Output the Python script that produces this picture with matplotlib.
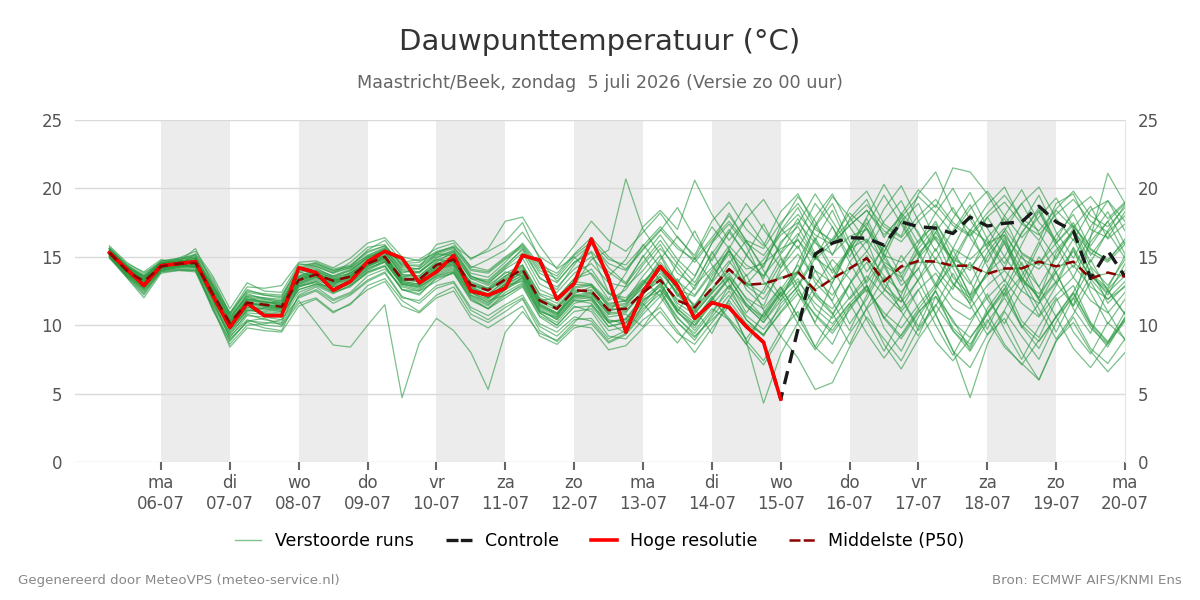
import numpy as np
import pandas as pd
import matplotlib
matplotlib.use('Agg')
import matplotlib.pyplot as plt
import matplotlib.dates as mdates
from matplotlib.lines import Line2D

# 6-hourly steps from zo 05-07 06:00 up to ma 20-07 00:00
times = pd.date_range('2026-07-05 06:00', periods=60, freq='6h')
day_names = ['ma', 'di', 'wo', 'do', 'vr', 'za', 'zo']

hres = [15.3, 14.1, 12.9, 14.35, 14.5, 14.65, 12.2, 9.85, 11.6, 10.7,
        10.7, 14.2, 13.85, 12.55, 13.2, 14.65, 15.4, 14.9, 13.1, 13.9,
        15.1, 12.5, 12.2, 12.7, 15.1, 14.75, 11.9, 13.05, 16.3, 13.4,
        9.5, 12.45, 14.3, 12.9, 10.5, 11.65, 11.3, 9.9, 8.75, 4.6]

control = [15.3, 14.1, 12.9, 14.35, 14.5, 14.65, 12.2, 9.85, 11.6, 10.7,
           10.7, 14.2, 13.85, 12.55, 13.2, 14.65, 15.4, 14.9, 13.1, 13.9,
           15.1, 12.5, 12.2, 12.7, 15.1, 14.75, 11.9, 13.05, 16.3, 13.4,
           9.5, 12.45, 14.3, 12.9, 10.5, 11.65, 11.3, 9.9, 8.75, 4.6,
           9.7, 15.2, 16.0, 16.4, 16.35, 15.85, 17.55, 17.2, 17.1, 16.7,
           17.9, 17.25, 17.45, 17.55, 18.7, 17.55, 16.9, 13.4, 15.45, 13.55]

p50 = [15.3, 14.0, 13.2, 14.3, 14.5, 14.55, 12.3, 10.15, 11.65, 11.5,
       11.35, 13.3, 13.7, 13.25, 13.55, 14.5, 15.0, 13.35, 13.35, 14.4,
       14.8, 12.95, 12.55, 13.35, 14.1, 11.8, 11.2, 12.55, 12.5, 11.1,
       11.2, 12.4, 13.3, 11.8, 11.3, 12.7, 14.1, 12.95, 13.05, 13.4,
       13.9, 12.55, 13.4, 14.15, 14.9, 13.2, 14.3, 14.7, 14.65, 14.35,
       14.35, 13.75, 14.15, 14.15, 14.65, 14.3, 14.65, 13.4, 13.85, 13.55]

members = [
    [15.5,14.2,13.0,14.4,14.8,15.0,12.7,10.4,12.3,11.9,11.6,13.8,14.2,13.5,14.0,14.9,15.6,14.0,13.8,14.9,15.5,13.6,13.0,14.2,15.3,13.0,12.4,13.8,14.5,13.1,12.8,14.0,15.6,14.2,12.6,14.9,16.8,15.2,13.4,16.1,17.2,15.0,16.3,18.2,17.1,15.4,17.6,18.9,16.2,14.8,17.0,16.1,14.2,16.8,18.4,16.0,17.5,15.1,16.8,14.9],
    [15.0,13.6,12.3,14.0,14.2,14.1,11.6,9.4,10.8,10.4,10.2,12.9,13.1,12.4,12.8,13.9,14.4,12.6,12.2,13.5,13.8,11.9,11.2,12.0,12.8,10.6,9.8,11.0,11.2,9.6,9.9,11.4,12.6,10.2,8.9,10.8,12.9,10.4,9.2,11.6,12.8,10.1,8.6,11.3,12.9,9.8,8.1,10.6,12.5,9.6,8.4,11.2,13.0,10.3,9.1,11.8,12.9,10.2,8.8,10.5],
    [15.8,14.6,13.8,14.6,14.4,15.2,13.4,10.8,12.6,12.2,12.0,14.4,14.5,14.0,14.3,15.5,16.2,14.6,14.8,15.6,16.0,14.2,14.8,15.5,16.8,15.0,14.2,15.8,17.6,16.2,15.4,16.8,18.2,16.4,15.1,17.6,19.0,17.0,15.8,18.3,19.6,17.2,16.0,18.6,19.8,17.4,16.5,19.6,21.2,18.3,16.9,18.8,20.1,17.6,16.2,18.9,19.6,17.0,16.4,18.3],
    [15.2,13.8,12.6,14.1,14.6,14.4,11.9,9.0,10.2,9.8,9.6,12.2,12.8,11.9,12.4,13.6,14.1,12.8,12.5,13.2,13.9,12.1,11.4,12.6,13.5,11.0,10.5,12.0,12.1,10.2,10.4,12.2,13.8,12.4,11.0,13.6,15.2,12.6,11.4,14.2,15.8,13.1,11.8,14.6,16.2,13.0,11.7,14.9,16.4,13.5,12.2,15.0,16.6,13.4,12.0,15.3,16.8,13.8,12.7,15.1],
    [15.4,14.1,13.3,14.2,14.4,14.3,12.0,9.8,11.2,10.9,10.8,12.6,13.0,12.8,13.2,14.2,14.6,13.0,12.8,13.6,14.0,12.4,11.8,12.2,13.0,10.9,10.0,11.4,11.0,9.2,9.0,10.4,11.3,9.6,8.0,9.8,11.4,8.9,7.4,9.6,11.0,8.4,7.2,9.4,11.2,8.6,6.8,9.0,10.8,8.1,6.9,9.3,10.5,8.0,6.0,8.8,10.6,8.3,7.2,9.0],
    [15.6,14.4,13.5,14.7,14.9,15.4,13.6,11.2,13.1,12.5,12.4,14.5,14.3,13.8,14.6,15.7,15.9,14.3,14.1,15.2,15.1,13.4,12.9,13.8,14.4,12.3,11.9,13.2,13.0,11.8,12.6,14.4,15.9,13.8,12.9,14.2,15.4,13.6,14.8,16.6,17.5,16.0,15.2,16.5,17.0,15.1,14.6,16.2,17.4,15.6,14.8,16.0,16.6,14.9,14.1,15.5,16.9,15.3,14.6,15.9],
    [15.1,13.9,12.8,14.0,14.3,14.8,12.5,9.6,11.0,11.3,11.1,13.0,13.4,12.9,13.8,14.6,15.2,13.2,13.0,14.2,14.5,12.6,12.0,13.1,13.9,11.5,10.9,12.3,12.8,11.4,11.6,12.7,13.5,11.6,10.8,12.4,13.6,12.0,11.2,12.8,10.6,12.9,14.8,13.4,11.2,12.5,15.1,13.2,10.8,12.9,14.6,11.9,10.1,12.6,15.0,13.1,11.4,13.6,12.4,13.6],
    [15.3,14.0,13.1,14.4,14.7,14.9,12.6,10.2,11.9,11.8,11.4,13.5,14.0,13.4,13.6,14.7,15.3,13.7,13.6,14.6,15.4,13.8,13.5,14.6,16.0,14.4,13.8,15.2,16.4,15.0,14.1,15.6,17.0,15.6,14.8,16.4,18.0,16.2,15.6,17.5,18.9,17.0,16.2,17.6,18.8,17.2,16.4,18.0,19.2,17.5,16.6,18.2,19.5,17.8,16.9,18.5,19.8,18.0,17.2,18.6],
    [15.0,13.5,12.0,13.8,14.0,13.9,11.2,8.6,10.0,10.1,10.4,12.0,12.5,11.6,12.2,13.2,13.8,12.0,11.8,12.9,13.2,11.3,10.7,11.5,12.2,10.1,9.5,10.6,10.3,8.8,9.4,11.0,12.6,11.2,10.0,11.5,12.9,11.4,10.2,11.8,13.2,11.6,10.5,12.0,13.6,12.2,11.0,12.6,13.8,12.0,11.2,12.9,14.0,12.5,11.6,13.1,14.4,12.8,11.9,13.2],
    [15.6,14.2,13.6,14.2,14.6,15.6,13.0,10.9,12.8,12.7,12.9,14.6,14.7,14.2,14.9,16.0,16.4,15.0,14.7,15.3,15.8,14.9,15.4,16.1,17.5,14.8,13.2,14.6,15.3,12.4,11.8,13.6,15.1,12.6,11.4,13.3,15.5,13.1,12.3,14.5,16.3,14.0,13.1,15.6,17.1,14.4,13.5,15.9,17.6,15.0,14.0,16.4,17.8,15.2,14.4,16.6,18.1,15.6,14.7,16.3],
    [15.2,13.7,12.5,13.9,14.1,14.0,11.5,9.2,10.4,10.0,9.9,11.6,12.0,11.0,11.5,12.9,13.4,11.8,11.0,12.2,12.8,10.8,10.2,11.0,11.9,9.6,8.8,10.0,9.8,8.2,8.5,9.8,11.0,9.4,8.6,10.2,11.8,10.1,9.3,10.9,12.3,10.8,9.6,11.4,12.6,10.9,9.8,11.5,13.0,11.2,10.4,12.0,13.3,11.6,10.6,12.2,13.5,11.8,10.9,12.4],
    [15.4,14.2,13.4,14.6,14.6,14.7,12.9,10.6,12.1,11.6,11.8,13.9,13.5,13.1,13.3,14.3,14.9,13.5,13.9,14.8,14.6,13.2,12.7,13.9,13.6,11.8,12.0,13.4,14.1,12.3,11.7,13.0,14.6,13.2,12.2,14.0,15.8,14.4,13.6,15.2,16.7,14.9,14.0,15.6,16.3,14.6,13.8,15.3,16.5,14.8,14.2,15.7,17.1,15.3,14.5,16.0,17.3,15.5,14.8,16.1],
    [15.7,14.5,13.9,14.8,14.5,14.2,11.1,8.9,10.3,10.5,10.0,11.8,10.2,8.55,8.4,10.0,11.5,4.7,8.7,10.5,9.6,8.0,5.3,9.5,11.0,9.4,8.9,10.2,11.5,10.2,9.4,11.5,13.1,11.0,9.8,11.8,13.4,11.6,10.4,12.4,14.0,12.2,11.2,13.0,14.6,12.6,11.7,13.3,14.9,13.0,12.0,13.8,15.0,13.2,12.3,13.9,15.4,13.6,12.6,14.0],
    [15.3,14.1,13.4,14.5,14.2,14.8,12.1,10.0,11.4,11.2,11.0,13.1,13.6,13.0,13.9,15.0,15.4,13.8,14.2,15.9,16.2,14.8,15.6,17.6,17.9,15.8,14.1,15.0,13.7,11.9,13.8,15.9,14.2,12.1,13.5,16.0,17.4,15.8,13.2,11.8,14.6,17.2,18.9,16.1,13.9,15.7,18.2,16.8,14.1,12.6,15.4,17.9,16.0,13.2,15.8,18.4,17.1,14.6,16.9,18.8],
    [14.9,13.8,12.9,14.1,14.4,14.2,12.0,9.9,11.6,11.4,11.2,13.3,13.8,13.2,13.7,14.6,14.9,13.1,12.9,14.1,14.4,12.4,11.6,12.9,13.2,11.0,10.6,12.9,14.8,15.5,20.7,17.0,15.2,13.1,14.9,17.2,15.6,13.0,14.4,16.9,18.6,16.2,13.8,15.4,17.8,15.2,12.9,14.1,16.8,14.7,12.2,13.6,16.2,14.0,11.8,13.2,15.7,13.4,11.9,12.8],
    [15.4,14.0,13.3,14.3,14.5,14.6,12.4,10.1,11.7,11.4,11.2,13.2,13.7,13.3,13.5,14.4,15.1,13.3,13.2,14.3,14.6,12.8,12.2,13.3,14.0,11.6,10.9,12.2,12.0,10.4,10.1,11.9,12.5,10.6,9.2,10.4,11.6,8.8,4.3,7.9,10.2,12.4,10.9,8.6,11.3,13.5,11.0,9.2,12.1,10.4,8.2,10.9,12.7,9.8,11.6,13.9,11.2,9.4,12.6,10.8],
    [15.5,14.3,13.5,14.6,14.7,14.6,12.7,10.6,12.0,11.9,11.8,13.6,14.0,13.6,14.1,14.9,15.5,14.1,13.9,14.8,15.2,13.4,13.2,14.3,15.6,13.5,12.6,14.4,16.0,14.2,13.1,15.0,16.6,14.8,13.6,16.0,18.2,16.1,14.2,17.3,19.4,17.6,15.1,17.8,19.2,16.4,18.1,19.9,18.6,21.5,21.2,19.6,17.4,18.9,20.1,17.8,16.2,18.4,19.1,17.6],
    [15.1,13.7,12.7,14.2,14.3,14.4,12.2,9.7,11.1,10.9,10.6,12.8,13.2,12.5,13.1,14.1,14.7,13.0,12.7,13.8,14.2,12.2,11.5,12.7,13.4,11.2,10.4,11.8,11.6,9.9,10.2,11.7,12.9,11.0,9.6,11.2,10.4,8.6,7.1,9.2,7.6,5.3,5.8,8.4,10.6,9.0,7.4,9.8,11.5,9.6,8.1,10.2,12.0,9.9,8.3,10.7,12.4,10.1,8.7,11.0],
    [15.6,14.3,13.4,14.4,14.6,14.9,12.5,10.3,11.8,11.7,11.5,13.4,13.9,13.4,13.8,14.8,15.4,13.6,13.5,14.5,14.9,13.0,12.6,13.6,14.3,12.0,11.4,12.8,13.0,11.5,11.8,13.2,14.4,12.6,11.5,13.1,14.7,12.9,11.9,13.8,15.2,13.4,12.2,14.0,15.4,13.6,12.4,14.2,10.8,8.2,4.7,8.6,11.0,9.2,7.5,10.2,12.3,10.0,8.4,10.6],
    [15.2,13.9,13.0,14.3,14.5,14.3,12.2,10.0,11.5,11.5,11.4,13.3,13.6,13.2,13.4,14.4,15.0,13.4,13.3,14.4,14.7,12.9,12.5,13.4,14.0,11.9,11.2,12.6,12.3,11.2,11.1,12.3,13.3,11.8,11.2,12.6,14.0,12.9,13.0,13.4,13.8,12.6,13.4,14.1,14.8,13.3,14.2,14.6,14.6,14.3,14.4,13.8,14.1,14.2,14.6,14.3,14.6,13.5,13.8,13.6],
    [15.3,14.0,13.2,14.2,14.5,14.6,12.3,10.2,11.6,11.5,11.3,13.3,13.7,13.2,13.6,14.5,15.0,13.3,13.4,14.4,14.8,13.0,12.6,13.3,14.1,11.8,11.3,12.5,12.5,11.1,11.3,12.4,13.3,11.9,11.3,12.7,14.1,13.0,13.0,13.5,13.9,16.2,18.4,15.7,13.1,14.9,17.6,15.2,12.8,14.4,16.9,14.3,12.1,13.6,16.1,13.8,11.4,16.4,21.1,18.9],
    [15.0,13.6,12.4,14.0,14.2,14.3,11.8,9.1,10.7,10.6,10.4,12.4,12.9,12.3,12.9,13.9,14.3,12.6,12.5,13.6,13.9,12.0,11.2,12.4,13.1,10.9,10.2,11.6,11.9,10.3,10.4,11.8,12.8,10.9,10.0,11.9,13.4,11.5,10.6,12.3,13.4,11.2,10.1,11.6,12.9,10.6,9.2,11.0,12.1,9.8,8.6,10.4,8.4,7.2,6.0,8.9,10.2,8.1,6.6,8.0],
    [15.4,14.2,13.3,14.4,14.7,14.7,12.4,10.4,11.9,11.7,11.6,13.5,13.9,13.5,13.8,14.7,15.3,13.7,13.6,14.7,15.0,13.1,12.7,13.6,14.4,12.2,11.6,13.0,12.9,11.6,11.8,13.1,14.2,12.6,12.1,13.8,15.4,14.1,14.5,15.6,16.2,14.8,16.0,17.3,18.4,16.6,17.9,19.4,18.2,16.7,18.5,19.8,18.0,16.4,17.9,19.3,17.2,15.8,17.6,18.9],
    [15.1,13.6,12.6,14.0,14.1,14.0,11.3,8.4,9.8,9.6,9.5,11.4,11.9,10.9,11.6,12.6,13.2,11.4,10.9,12.0,12.5,10.5,9.8,10.6,11.4,9.2,8.6,9.8,10.1,8.7,9.3,10.8,12.1,10.2,9.1,10.6,12.2,10.4,9.3,11.0,12.6,10.7,9.4,11.1,12.8,10.5,9.0,10.9,12.5,10.2,9.1,10.8,12.4,10.0,8.8,10.6,12.0,9.8,8.6,10.3],
    [15.5,14.3,13.6,14.5,14.9,15.1,12.8,10.7,12.2,12.0,11.9,14.0,14.4,13.9,14.2,15.1,15.7,14.4,14.3,15.2,15.6,14.0,13.8,14.8,15.7,13.8,13.1,14.6,15.4,13.9,13.0,14.6,16.2,14.5,13.1,15.2,17.0,15.1,13.6,15.9,17.8,15.2,13.4,15.8,17.5,14.9,13.2,15.6,17.2,14.6,13.0,15.3,16.9,14.4,12.8,15.0,16.8,14.3,12.9,14.8],
    [15.3,14.1,13.1,14.3,14.6,14.4,12.1,9.9,11.3,11.2,11.1,13.1,13.5,12.9,13.3,14.3,14.8,13.1,12.9,14.0,14.4,12.6,12.0,12.9,13.7,11.4,10.8,12.1,12.2,10.8,10.9,12.6,14.0,12.3,11.0,12.5,14.5,16.2,14.0,12.1,13.8,16.4,14.2,11.9,13.3,15.9,13.6,11.2,12.8,15.5,13.2,10.9,12.6,15.1,12.8,10.6,12.4,14.8,12.5,10.8],
    [15.6,14.4,13.7,14.7,14.8,15.2,13.2,10.9,12.5,12.3,12.2,14.2,14.6,14.1,14.4,15.4,15.8,14.5,14.6,15.4,15.7,14.3,14.0,15.0,15.9,14.2,13.6,15.1,16.1,14.8,14.4,15.8,17.2,15.8,14.6,16.2,17.6,16.0,15.1,16.8,18.1,16.6,15.9,17.3,18.4,16.9,16.1,17.6,18.8,17.3,16.5,17.9,19.0,17.4,16.6,18.1,19.2,17.6,16.8,18.0],
    [14.9,13.5,12.2,13.9,14.0,14.0,11.4,8.8,10.3,10.2,10.1,12.1,12.6,11.8,12.3,13.3,13.9,12.1,11.6,12.7,13.1,11.1,10.4,11.3,12.0,9.9,9.2,10.4,10.5,9.0,9.6,11.2,12.3,10.5,9.4,11.0,12.5,10.7,9.7,11.3,12.9,15.2,12.8,10.1,11.9,14.3,12.0,9.6,11.4,13.8,11.5,9.3,11.1,13.5,11.2,9.0,10.8,13.2,11.0,8.9],
    [15.2,14.0,13.0,14.2,14.4,14.6,12.4,10.1,11.8,11.6,11.5,13.4,13.8,13.3,13.6,14.6,15.1,13.4,13.3,14.3,14.7,12.8,12.3,13.2,13.8,11.7,11.1,12.4,12.6,11.0,11.4,12.9,14.2,12.2,10.9,12.3,13.8,11.9,10.6,12.6,14.4,12.1,10.8,13.0,15.1,12.7,11.2,13.4,15.6,13.1,11.6,13.9,16.0,13.5,12.0,14.2,16.3,13.8,12.2,14.5],
    [15.4,14.2,13.2,14.4,14.5,14.5,12.2,10.0,11.6,11.4,11.3,13.2,13.7,13.1,13.5,14.4,14.9,13.3,13.2,14.2,14.6,12.7,12.1,13.0,13.9,11.5,10.8,12.2,12.4,10.9,11.0,12.3,13.6,11.4,10.4,12.0,13.5,11.4,10.2,12.1,13.9,17.3,19.4,17.9,16.0,18.5,20.2,17.6,15.4,17.8,19.7,17.1,15.0,17.4,19.5,16.8,14.9,17.2,19.1,16.9],
    [15.3,14.0,13.3,14.5,14.6,14.8,12.6,10.3,11.9,11.7,11.6,13.6,14.1,13.6,14.0,15.0,15.5,13.9,13.9,15.0,15.3,13.5,13.3,14.4,15.5,13.4,12.8,14.1,15.0,13.6,14.8,17.2,18.4,17.0,20.6,18.1,16.2,17.8,19.2,17.1,15.6,17.9,19.6,17.2,15.4,17.6,19.1,16.6,14.8,16.9,18.8,16.3,14.5,16.7,18.6,16.1,14.2,16.5,18.3,15.9],
    [15.0,13.7,12.8,14.1,14.3,14.3,12.0,9.5,11.1,11.0,10.9,12.8,13.2,12.6,13.0,14.0,14.6,12.9,12.6,13.7,14.1,12.2,11.7,12.6,13.3,11.1,10.4,11.8,11.8,10.2,10.5,12.0,13.0,11.2,10.2,11.9,10.5,9.0,10.8,12.4,10.1,8.2,9.9,11.6,9.4,7.6,9.3,11.2,8.8,7.4,9.0,10.9,8.6,7.1,8.9,10.6,8.3,6.9,8.7,10.4],
    [15.2,13.9,13.1,14.2,14.4,14.5,12.2,9.9,11.5,11.3,11.2,13.0,13.5,13.0,13.4,14.3,14.8,13.2,13.0,14.1,14.5,12.7,12.0,13.0,13.6,11.4,10.7,12.1,12.3,10.8,12.9,15.1,13.2,11.0,12.8,15.4,13.1,10.9,12.6,14.9,12.3,10.2,13.1,15.8,12.9,10.5,12.2,15.0,17.1,14.2,11.8,13.9,16.4,13.1,10.7,12.9,15.6,12.4,10.1,11.9],
    [15.5,14.3,13.4,14.5,14.6,14.9,12.9,10.5,12.1,12.0,11.7,13.9,14.3,13.8,14.2,15.1,15.6,14.2,14.1,15.1,15.4,13.6,13.1,14.1,14.9,12.6,12.0,13.4,13.8,12.3,12.0,13.3,12.1,14.6,16.9,14.4,12.6,15.1,17.4,15.0,12.8,14.9,17.2,14.6,12.4,15.3,17.9,15.4,13.0,15.6,18.1,15.6,13.2,15.9,18.3,15.8,13.5,16.1,17.6,15.2],
    [15.1,13.8,12.9,14.1,14.3,14.4,12.1,9.7,11.3,11.1,11.0,12.9,13.3,12.8,13.1,14.1,14.7,13.0,12.8,13.9,14.3,12.4,11.9,12.8,13.5,11.3,10.6,11.9,12.0,10.6,10.8,9.9,11.6,13.4,11.2,9.4,11.9,13.7,11.1,9.2,11.6,14.0,11.7,9.6,12.2,14.5,12.0,9.9,12.6,14.8,12.1,9.7,12.3,14.6,11.9,9.5,12.0,14.2,11.6,12.9],
    [15.4,14.1,13.2,14.4,14.6,14.6,12.4,10.2,11.7,11.5,11.4,13.4,13.8,13.3,13.6,14.6,15.1,13.5,13.4,14.5,14.9,13.0,12.5,13.5,14.2,11.9,11.3,12.7,12.9,11.3,11.5,13.0,14.8,16.5,14.9,13.2,15.6,17.8,16.0,14.2,16.5,18.9,17.2,15.0,17.3,19.5,17.4,15.1,16.8,18.6,16.4,14.6,16.9,18.9,16.7,14.8,17.1,18.7,16.3,17.4],
    [15.2,13.8,12.7,14.1,14.3,14.2,11.8,9.3,10.9,10.8,10.7,12.6,13.0,12.4,12.9,13.8,14.3,12.6,12.3,13.4,13.8,11.8,11.2,12.2,12.9,10.7,10.0,11.3,11.4,9.9,10.2,11.6,10.1,8.7,10.4,12.1,10.3,8.6,10.9,12.8,10.6,8.4,10.7,12.9,10.4,8.1,10.5,12.6,10.0,7.8,10.1,12.3,9.7,7.5,9.9,12.0,9.5,7.9,10.2,9.0],
    [15.6,14.4,13.6,14.6,14.8,15.0,13.0,10.8,12.4,12.2,12.1,14.1,14.5,14.0,14.3,15.3,15.8,14.4,14.4,15.3,15.7,14.1,13.9,14.9,15.8,14.0,13.4,14.9,15.9,14.5,14.0,15.5,16.9,18.6,16.4,14.7,16.8,18.9,17.0,15.3,17.4,19.6,17.6,15.7,17.9,20.3,18.1,16.0,18.2,20.0,17.7,15.8,18.0,19.9,17.5,16.2,18.4,19.4,17.8,19.0],
]

fig = plt.figure(figsize=(12, 6), dpi=100)
ax = fig.add_axes([0.0625, 0.23, 0.875, 0.57])

x_start = pd.Timestamp('2026-07-04 18:00')
x_end = pd.Timestamp('2026-07-20 00:00')
day_ticks = pd.date_range('2026-07-06', '2026-07-20', freq='D')

# grey band on every other day, starting monday
for d in day_ticks[::2][:-1]:
    ax.axvspan(d, d + pd.Timedelta(days=1), color='#ececec', lw=0, zorder=0)

for m in members:
    ax.plot(times, m, color='#2a9a42', lw=0.9, alpha=0.62, zorder=2)

ax.plot(times, control, color='#1a1a1a', lw=2.4, ls=(0, (4, 2.5)), zorder=3)
ax.plot(times[:len(hres)], hres, color='#ff0000', lw=2.6, zorder=4)
ax.plot(times, p50, color='#8b0000', lw=1.8, ls=(0, (4, 2.5)), zorder=5)

ax.set_xlim(x_start, x_end)
ax.set_ylim(0, 25)
ax.set_yticks([0, 5, 10, 15, 20, 25])
ax.grid(axis='y', color='#d9d9d9', lw=1)
ax.set_axisbelow(True)

ax.set_xticks(day_ticks)
ax.set_xticklabels([day_names[d.weekday()] + '\n' + d.strftime('%d-%m') for d in day_ticks])
ax.tick_params(axis='x', length=6, width=1.5, color='#666666', labelsize=12, labelcolor='#555555', pad=3)
ax.tick_params(axis='y', length=0, labelsize=12, labelcolor='#555555', pad=9,
               labelleft=True, labelright=True)

for s in ['top', 'left', 'bottom']:
    ax.spines[s].set_visible(False)
ax.spines['right'].set_color('#e6e6e6')

fig.text(0.5, 0.93, 'Dauwpunttemperatuur (°C)', ha='center', va='center', fontsize=21, color='#333333')
fig.text(0.5, 0.861, 'Maastricht/Beek, zondag  5 juli 2026 (Versie zo 00 uur)', ha='center', va='center',
         fontsize=12.7, color='#666666')

handles = [
    Line2D([], [], color='#7cc48a', lw=1),
    Line2D([], [], color='#1a1a1a', lw=2.4, ls=(0, (3.6, 0.7))),
    Line2D([], [], color='#ff0000', lw=2.6),
    Line2D([], [], color='#8b0000', lw=1.8, ls=(0, (4.4, 1.3))),
]
labels = ['Verstoorde runs', 'Controle', 'Hoge resolutie', 'Middelste (P50)']
fig.legend(handles, labels, loc='center', bbox_to_anchor=(0.5, 0.098), ncol=4, frameon=False,
           fontsize=12.5, handlelength=1.5, handletextpad=0.75, columnspacing=1.85)

fig.text(0.015, 0.033, 'Gegenereerd door MeteoVPS (meteo-service.nl)', ha='left', va='center',
         fontsize=9.6, color='#888888')
fig.text(0.985, 0.033, 'Bron: ECMWF AIFS/KNMI Ens', ha='right', va='center', fontsize=9.6, color='#888888')

fig.savefig('out.png', dpi=100)
